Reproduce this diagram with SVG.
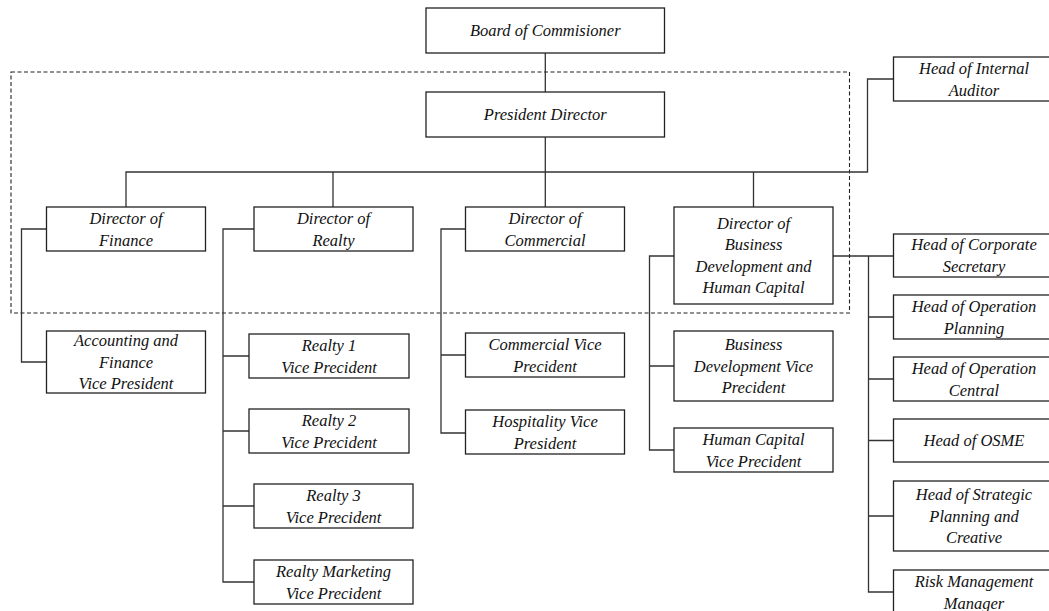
<svg xmlns="http://www.w3.org/2000/svg" width="1049" height="611" viewBox="0 0 1049 611">
  <style>
    .box { fill: #ffffff; stroke: #222222; stroke-width: 1.3; }
    .t { font-family: 'Liberation Serif', 'DejaVu Serif', serif; font-style: italic; font-size: 16.5px; text-anchor: middle; fill: #111111; }
    .ln { fill: none; stroke: #333333; stroke-width: 1.3; }
    .dash { fill: none; stroke: #222222; stroke-width: 1.1; stroke-dasharray: 4 2.5; }
  </style>
  <rect width="1049" height="611" fill="#ffffff"/>

  <!-- board of directors boundary -->
  <rect class="dash" x="11" y="72" width="838.5" height="241"/>

  <g id="connectors">
    <!-- board to president, president to directors -->
    <path class="ln" d="M545.3 53 V92 M545.3 137 V207"/>
    <path class="ln" d="M126 207 V172 H867.5 V79 H893.5"/>
    <path class="ln" d="M333 172 V207 M753.5 172 V207"/>
    <!-- finance -->
    <path class="ln" d="M46.5 229 H21.5 V362 H46.5"/>
    <!-- realty -->
    <path class="ln" d="M254 229 H223 V582 H254 M223 356 H249 M223 431 H249 M223 506 H254"/>
    <!-- commercial -->
    <path class="ln" d="M465.5 229 H441 V433 H465.5 M441 355 H465.5"/>
    <!-- business development and human capital -->
    <path class="ln" d="M674 256 H649.5 V450 H674 M649.5 366 H674"/>
    <!-- staff units -->
    <path class="ln" d="M833 256 H893.5 M868.5 256 V592 H893.5 M868.5 317 H893.5 M868.5 379 H893.5 M868.5 440.5 H893.5 M868.5 516 H893.5"/>
  </g>

  <g id="board-of-commisioner">
    <rect class="box" x="426" y="8" width="238.5" height="45"/>
    <text class="t" x="545.3" y="36">Board of Commisioner</text>
  </g>
  <g id="president-director">
    <rect class="box" x="426" y="92" width="238.5" height="45"/>
    <text class="t" x="545.3" y="120">President Director</text>
  </g>
  <g id="head-internal-auditor">
    <rect class="box" x="893.5" y="57" width="162" height="44"/>
    <text class="t" x="974" y="74">Head of Internal<tspan x="974" dy="22">Auditor</tspan></text>
  </g>

  <g id="director-finance">
    <rect class="box" x="46.5" y="207" width="159" height="44"/>
    <text class="t" x="126" y="224">Director of<tspan x="126" dy="22">Finance</tspan></text>
  </g>
  <g id="director-realty">
    <rect class="box" x="254" y="207" width="159" height="44"/>
    <text class="t" x="333.5" y="224">Director of<tspan x="333.5" dy="22">Realty</tspan></text>
  </g>
  <g id="director-commercial">
    <rect class="box" x="465.5" y="207" width="159" height="44"/>
    <text class="t" x="545" y="224">Director of<tspan x="545" dy="22">Commercial</tspan></text>
  </g>
  <g id="director-business-development">
    <rect class="box" x="674" y="207" width="159" height="97"/>
    <text class="t" x="753.5" y="228.5">Director of<tspan x="753.5" dy="21.5">Business</tspan><tspan x="753.5" dy="21.5">Development and</tspan><tspan x="753.5" dy="21.5">Human Capital</tspan></text>
  </g>

  <g id="accounting-finance-vp">
    <rect class="box" x="46.5" y="331" width="159" height="62"/>
    <text class="t" x="126" y="346">Accounting and<tspan x="126" dy="21.5">Finance</tspan><tspan x="126" dy="21.5">Vice President</tspan></text>
  </g>

  <g id="realty-1-vp">
    <rect class="box" x="249" y="334" width="160" height="44"/>
    <text class="t" x="329" y="350.5">Realty 1<tspan x="329" dy="22">Vice Precident</tspan></text>
  </g>
  <g id="realty-2-vp">
    <rect class="box" x="249" y="409" width="160" height="44"/>
    <text class="t" x="329" y="425.5">Realty 2<tspan x="329" dy="22">Vice Precident</tspan></text>
  </g>
  <g id="realty-3-vp">
    <rect class="box" x="254" y="484" width="159" height="44"/>
    <text class="t" x="333.5" y="500.5">Realty 3<tspan x="333.5" dy="22">Vice Precident</tspan></text>
  </g>
  <g id="realty-marketing-vp">
    <rect class="box" x="254" y="560" width="159" height="44"/>
    <text class="t" x="333.5" y="576.5">Realty Marketing<tspan x="333.5" dy="22">Vice Precident</tspan></text>
  </g>

  <g id="commercial-vp">
    <rect class="box" x="465.5" y="333" width="159" height="44"/>
    <text class="t" x="545" y="349.5">Commercial Vice<tspan x="545" dy="22">Precident</tspan></text>
  </g>
  <g id="hospitality-vp">
    <rect class="box" x="465.5" y="410" width="159" height="44"/>
    <text class="t" x="545" y="426.5">Hospitality Vice<tspan x="545" dy="22">President</tspan></text>
  </g>

  <g id="business-development-vp">
    <rect class="box" x="674" y="331" width="159" height="70"/>
    <text class="t" x="753.5" y="350">Business<tspan x="753.5" dy="21.5">Development Vice</tspan><tspan x="753.5" dy="21.5">Precident</tspan></text>
  </g>
  <g id="human-capital-vp">
    <rect class="box" x="674" y="428" width="159" height="44"/>
    <text class="t" x="753.5" y="444.5">Human Capital<tspan x="753.5" dy="22">Vice Precident</tspan></text>
  </g>

  <g id="head-corporate-secretary">
    <rect class="box" x="893.5" y="234" width="162" height="43"/>
    <text class="t" x="974" y="250">Head of Corporate<tspan x="974" dy="22">Secretary</tspan></text>
  </g>
  <g id="head-operation-planning">
    <rect class="box" x="893.5" y="295" width="162" height="44"/>
    <text class="t" x="974" y="311.5">Head of Operation<tspan x="974" dy="22">Planning</tspan></text>
  </g>
  <g id="head-operation-central">
    <rect class="box" x="893.5" y="357" width="162" height="44"/>
    <text class="t" x="974" y="373.5">Head of Operation<tspan x="974" dy="22">Central</tspan></text>
  </g>
  <g id="head-osme">
    <rect class="box" x="893.5" y="419" width="162" height="43"/>
    <text class="t" x="974" y="446">Head of OSME</text>
  </g>
  <g id="head-strategic-planning">
    <rect class="box" x="893.5" y="481" width="162" height="70"/>
    <text class="t" x="974" y="500">Head of Strategic<tspan x="974" dy="21.5">Planning and</tspan><tspan x="974" dy="21.5">Creative</tspan></text>
  </g>
  <g id="risk-management-manager">
    <rect class="box" x="893.5" y="570" width="162" height="48"/>
    <text class="t" x="974" y="587">Risk Management<tspan x="974" dy="22">Manager</tspan></text>
  </g>
</svg>
